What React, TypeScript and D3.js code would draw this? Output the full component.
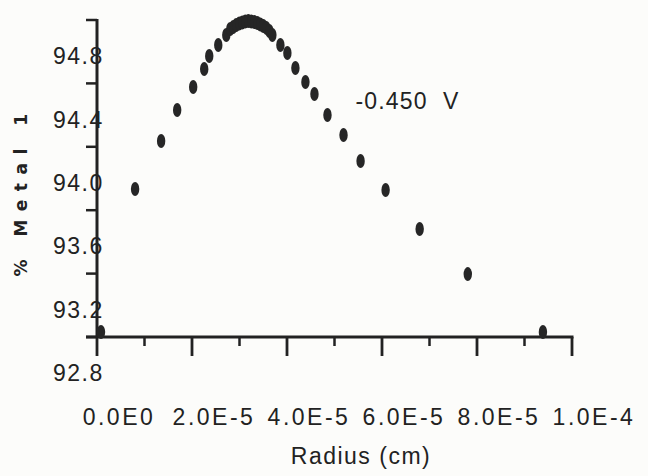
import React from "react";
import * as d3 from "d3";

// ---- data ----
const radius: number[] = [
  0.084e-5, 0.802e-5, 1.35e-5, 1.688e-5, 2.025e-5, 2.257e-5, 2.363e-5, 2.553e-5, 2.722e-5,
  2.806e-5, 2.869e-5, 2.932e-5, 2.996e-5, 3.059e-5, 3.122e-5, 3.186e-5, 3.249e-5, 3.312e-5,
  3.376e-5, 3.439e-5, 3.502e-5, 3.565e-5, 3.629e-5, 3.692e-5, 3.861e-5, 4.008e-5, 4.177e-5,
  4.388e-5, 4.578e-5, 4.852e-5, 5.19e-5, 5.549e-5, 6.076e-5, 6.793e-5, 7.806e-5, 9.388e-5,
];
const metal: number[] = [
  93.032, 93.934, 94.237, 94.432, 94.577, 94.691, 94.773, 94.842, 94.905,
  94.943, 94.956, 94.968, 94.978, 94.984, 94.991, 94.994, 94.991, 94.987,
  94.981, 94.972, 94.962, 94.95, 94.931, 94.905, 94.842, 94.792, 94.697,
  94.609, 94.533, 94.401, 94.274, 94.11, 93.927, 93.681, 93.397, 93.032,
];
const xMajorTicks: number[] = [0, 2e-5, 4e-5, 6e-5, 8e-5, 1e-4];
const xMinorTicks: number[] = [1e-5, 3e-5, 5e-5, 7e-5, 9e-5];
const xTickLabels: string[] = ["0.0E0", "2.0E-5", "4.0E-5", "6.0E-5", "8.0E-5", "1.0E-4"];
const yTicks: number[] = [95.0, 94.6, 94.2, 93.8, 93.4, 93.0];
const yLabelValues: number[] = [94.8, 94.4, 94.0, 93.6, 93.2, 92.8];
const yTickLabels: string[] = ["94.8", "94.4", "94.0", "93.6", "93.2", "92.8"];
const annotation = { x: 5.44e-5, y: 94.44, text: "-0.450  V" };
const xTitle = "Radius (cm)";
const yTitle = "% Metal 1";

const W = 648;
const H = 476;

export default function App() {
  const x = d3.scaleLinear().domain([0, 1e-4]).range([97, 572]);
  const y = d3.scaleLinear().domain([93.0, 95.0]).range([337, 20]);
  const ink = "#222";
  const font = "'Liberation Sans', Arial, Helvetica, sans-serif";
  const axisY = y(93.0);
  const majorLen = 19;
  const minorLen = 9;
  const yTickLen = 11;

  return (
    <svg
      width={W}
      height={H}
      style={{ position: "absolute", left: 0, top: 0, background: "#fcfcfa" }}
    >
      <rect x={0} y={0} width={W} height={H} fill="#fcfcfa" />
      {/* y axis */}
      <line x1={x(0)} x2={x(0)} y1={y(95.0) - 1} y2={axisY} stroke={ink} strokeWidth={3} />
      {yTicks.map((t) => (
        <line key={"yt" + t} x1={x(0) - yTickLen} x2={x(0)} y1={y(t)} y2={y(t)} stroke={ink} strokeWidth={2.5} />
      ))}
      {/* x axis */}
      <line x1={x(0) - yTickLen} x2={x(1e-4) + 1.5} y1={axisY} y2={axisY} stroke={ink} strokeWidth={3} />
      {xMajorTicks.map((t) => (
        <line key={"xM" + t} x1={x(t)} x2={x(t)} y1={axisY} y2={axisY + majorLen} stroke={ink} strokeWidth={2.8} />
      ))}
      {xMinorTicks.map((t) => (
        <line key={"xm" + t} x1={x(t)} x2={x(t)} y1={axisY} y2={axisY + minorLen} stroke={ink} strokeWidth={2.5} />
      ))}
      {/* y tick labels */}
      {yLabelValues.map((v, i) => (
        <text
          key={"yl" + v}
          x={53}
          y={y(v) + 12.5}
          fontFamily={font}
          fontSize={23}
          letterSpacing={1.5}
          fill={ink}
        >
          {yTickLabels[i]}
        </text>
      ))}
      {/* x tick labels */}
      {xMajorTicks.map((t, i) => (
        <text
          key={"xl" + t}
          x={x(t) + 22}
          y={425}
          textAnchor="middle"
          fontFamily={font}
          fontSize={23}
          letterSpacing={2.5}
          fill={ink}
        >
          {xTickLabels[i]}
        </text>
      ))}
      {/* titles */}
      <text x={361} y={464} textAnchor="middle" fontFamily={font} fontSize={23} letterSpacing={1.5} fill={ink}>
        {xTitle}
      </text>
      <text
        transform={`translate(27,${191}) rotate(-90)`}
        textAnchor="middle"
        fontFamily="'DejaVu Sans', sans-serif"
        fontWeight="bold"
        fontSize={17}
        letterSpacing={8.5}
        fill={ink}
      >
        {yTitle}
      </text>
      {/* annotation */}
      <text x={x(annotation.x)} y={y(annotation.y)} fontFamily={font} fontSize={23} letterSpacing={1.2} fill={ink} style={{ whiteSpace: "pre" }}>
        {annotation.text}
      </text>
      {/* points */}
      {radius.map((r, i) => (
        <ellipse key={"p" + i} cx={x(r)} cy={y(metal[i])} rx={4.2} ry={7} fill="#262626" />
      ))}
    </svg>
  );
}
